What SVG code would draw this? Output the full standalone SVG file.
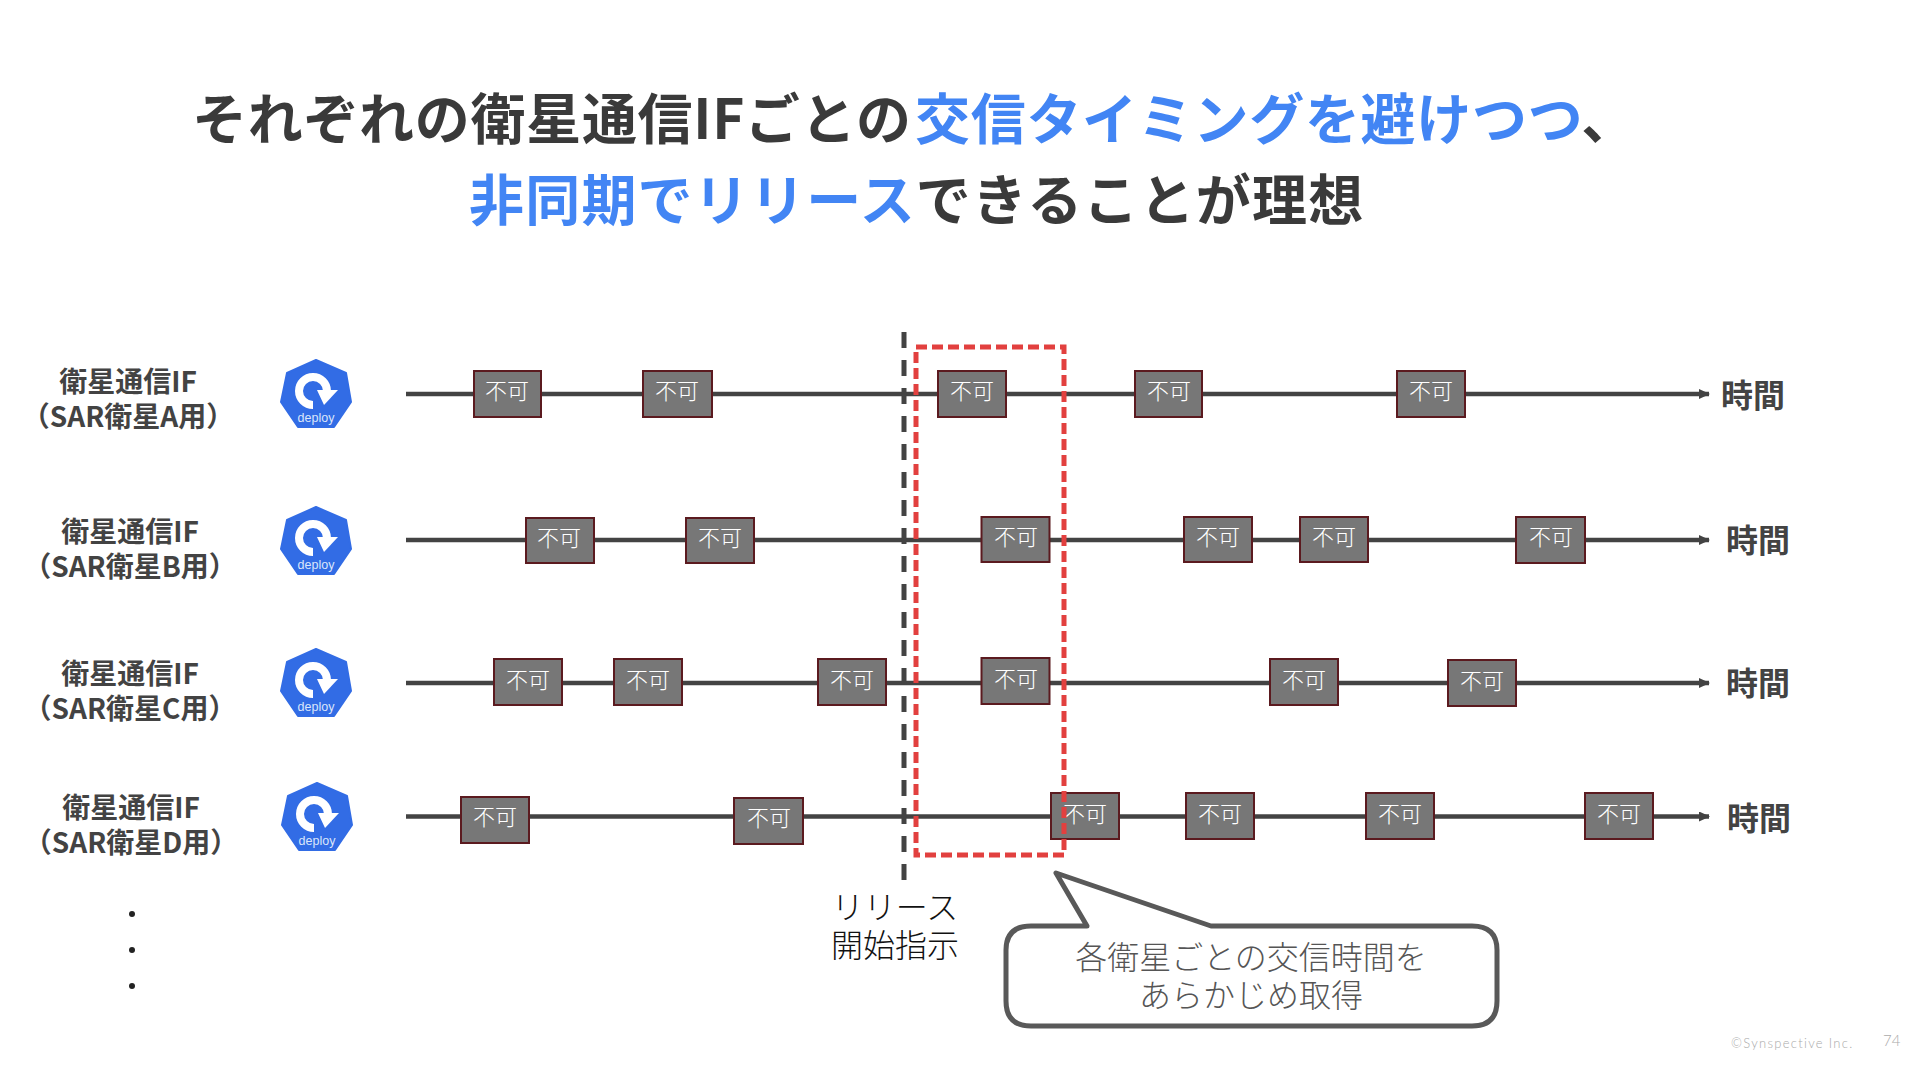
<svg xmlns="http://www.w3.org/2000/svg" width="1920" height="1080" viewBox="0 0 1920 1080">
<style>
text{font-family:"Noto Sans CJK JP","Noto Sans",sans-serif}
.t{font-size:55px;font-weight:700;fill:#3a3a3a;letter-spacing:.7px}
.t2{letter-spacing:1.2px}
.b{fill:#4285f4}
.l{font-size:28px;font-weight:700;fill:#434343;text-anchor:middle}
.h{font-size:32px;font-weight:700;fill:#434343}
.ln{stroke:#434343;stroke-width:4.500;fill:none}
.box{fill:#777;stroke:#5b1a1f;stroke-width:2}
.bt{font-size:22px;fill:#fff;text-anchor:middle;font-weight:300}
.bl{font-size:32px;fill:#111;text-anchor:middle;font-weight:300}
.c{font-size:32px;fill:#555;text-anchor:middle;font-weight:200}
</style>
<defs>
<marker id="a" markerWidth="12" markerHeight="12" refX="10" refY="5" orient="auto" markerUnits="userSpaceOnUse"><path d="M0 0L11 5L0 10z" fill="#434343"/></marker>
<g id="dep">
<path d="M35 0L65 13L70 42L53 67L17 67L0 42L6 13z" fill="#326ce5" stroke="#326ce5" stroke-width="2" stroke-linejoin="round"/>
<path d="M46 31A14 14 0 1 0 32 45" fill="none" stroke="#fff" stroke-width="8"/>
<path d="M36 30L57 30L43 45z" fill="#fff"/>
<text x="35" y="62" font-size="12.500" fill="#dbe6fb" text-anchor="middle" style="font-family:'Liberation Sans',sans-serif">deploy</text>
</g>
</defs>
<g id="title">
<text class="t" x="192" y="139">それぞれの衛星通信IFごとの<tspan class="b" x="915">交信タイミングを避けつつ</tspan>、</text>
<text class="t t2" x="469" y="220"><tspan class="b">非同期でリリース</tspan>できることが理想</text>
</g>
<g id="connectors">
<path class="ln" marker-end="url(#a)" d="M406 394H1709"/>
<path class="ln" marker-end="url(#a)" d="M406 540H1709"/>
<path class="ln" marker-end="url(#a)" d="M406 683H1709"/>
<path class="ln" marker-end="url(#a)" d="M406 816.500H1709"/>
<path d="M904 332V880" stroke="#434343" stroke-width="5" fill="none" stroke-dasharray="16 12"/>
</g>
<g id="row-a"><text class="l" x="128" y="392">衛星通信IF</text><text class="l" x="128" y="427">（SAR衛星A用）</text><use href="#dep" x="281" y="360"/><text class="h" x="1721" y="407">時間</text></g>
<g id="row-b"><text class="l" x="130" y="542">衛星通信IF</text><text class="l" x="130" y="577">（SAR衛星B用）</text><use href="#dep" x="281" y="507"/><text class="h" x="1726" y="552">時間</text></g>
<g id="row-c"><text class="l" x="130" y="684">衛星通信IF</text><text class="l" x="130" y="719">（SAR衛星C用）</text><use href="#dep" x="281" y="649"/><text class="h" x="1726" y="695">時間</text></g>
<g id="row-d"><text class="l" x="131" y="818">衛星通信IF</text><text class="l" x="131" y="853">（SAR衛星D用）</text><use href="#dep" x="282" y="783"/><text class="h" x="1727" y="830">時間</text></g>
<g id="boxes">
<g><rect class="box" x="474" y="371" width="67" height="46"/><text class="bt" x="507" y="399">不可</text></g>
<g><rect class="box" x="643" y="371" width="69" height="46"/><text class="bt" x="677" y="399">不可</text></g>
<g><rect class="box" x="938" y="371" width="68" height="46"/><text class="bt" x="972" y="399">不可</text></g>
<g><rect class="box" x="1135" y="371" width="67" height="46"/><text class="bt" x="1169" y="399">不可</text></g>
<g><rect class="box" x="1397" y="371" width="68" height="46"/><text class="bt" x="1431" y="399">不可</text></g>
<g><rect class="box" x="526" y="518" width="68" height="45"/><text class="bt" x="559" y="546">不可</text></g>
<g><rect class="box" x="686" y="518" width="68" height="45"/><text class="bt" x="720" y="546">不可</text></g>
<g><rect class="box" x="981.500" y="517" width="68" height="45"/><text class="bt" x="1016" y="545">不可</text></g>
<g><rect class="box" x="1184" y="517" width="68" height="45"/><text class="bt" x="1218" y="545">不可</text></g>
<g><rect class="box" x="1300" y="517" width="68" height="45"/><text class="bt" x="1334" y="545">不可</text></g>
<g><rect class="box" x="1516" y="517" width="69" height="46"/><text class="bt" x="1551" y="545">不可</text></g>
<g><rect class="box" x="494" y="659" width="68" height="46"/><text class="bt" x="528" y="688">不可</text></g>
<g><rect class="box" x="614" y="659" width="68" height="46"/><text class="bt" x="648" y="688">不可</text></g>
<g><rect class="box" x="818" y="659" width="68" height="46"/><text class="bt" x="852" y="688">不可</text></g>
<g><rect class="box" x="981.500" y="658" width="68" height="46"/><text class="bt" x="1016" y="687">不可</text></g>
<g><rect class="box" x="1270" y="659" width="68" height="46"/><text class="bt" x="1304" y="688">不可</text></g>
<g><rect class="box" x="1448" y="660" width="68" height="46"/><text class="bt" x="1482" y="689">不可</text></g>
<g><rect class="box" x="461" y="797" width="68" height="46"/><text class="bt" x="495" y="825">不可</text></g>
<g><rect class="box" x="734" y="798" width="69" height="46"/><text class="bt" x="769" y="826">不可</text></g>
<g><rect class="box" x="1051" y="793" width="68" height="46"/><text class="bt" x="1085" y="822">不可</text></g>
<g><rect class="box" x="1186" y="793" width="68" height="46"/><text class="bt" x="1220" y="822">不可</text></g>
<g><rect class="box" x="1366" y="793" width="68" height="46"/><text class="bt" x="1400" y="822">不可</text></g>
<g><rect class="box" x="1585" y="793" width="68" height="46"/><text class="bt" x="1619" y="822">不可</text></g>
</g>
<rect id="window" x="916" y="347" width="148" height="508" fill="none" stroke="#e2403f" stroke-width="5" stroke-dasharray="11 5"/>
<g id="release"><text class="bl" x="895" y="919">リリース</text><text class="bl" x="895" y="957">開始指示</text></g>
<g id="callout"><path d="M1056 873L1211 926H1472Q1497 926 1497 950V1001Q1497 1026 1472 1026H1031Q1006 1026 1006 1001V950Q1006 926 1031 926H1087z" fill="#fff" stroke="#595959" stroke-width="5" stroke-linejoin="round"/><text class="c" x="1251" y="969">各衛星ごとの交信時間を</text><text class="c" x="1251" y="1007">あらかじめ取得</text></g>
<g id="dots" fill="#222"><circle cx="132" cy="914" r="3"/><circle cx="132" cy="950" r="3"/><circle cx="132" cy="986" r="3"/></g>
<g id="footer" fill="#aaa" font-weight="300"><text x="1731" y="1048" font-size="13" letter-spacing="1.300" style="font-family:Lato,sans-serif">©Synspective Inc.</text><text x="1883" y="1046" font-size="15" style="font-family:Lato,sans-serif">74</text></g>
</svg>
